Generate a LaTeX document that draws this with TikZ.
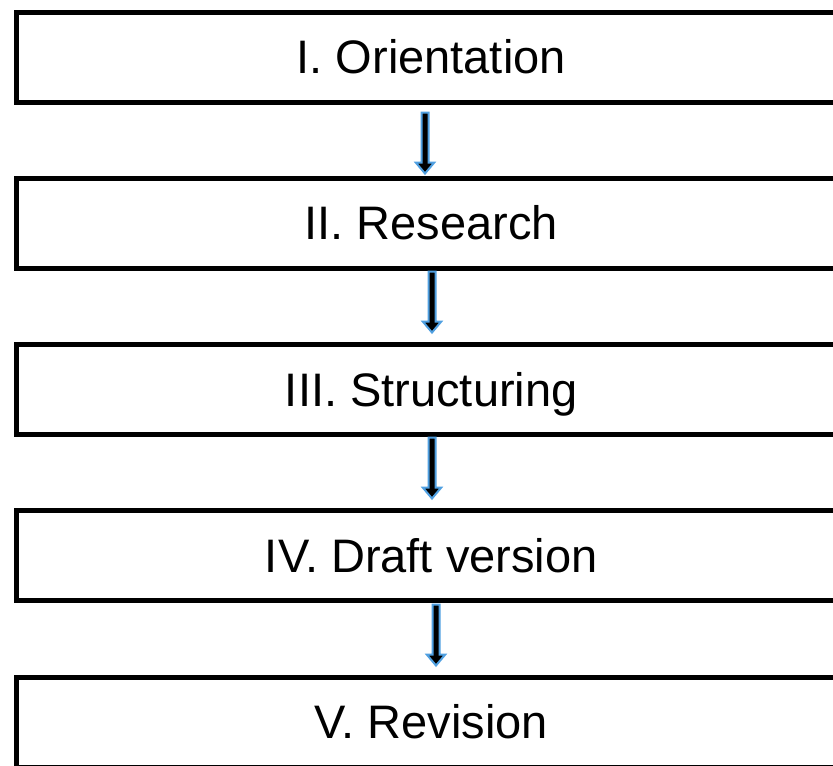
\documentclass[tikz,border=0pt]{standalone}
\usepackage{fontspec}
\setmainfont{Liberation Sans}
\usetikzlibrary{calc}
\definecolor{arrowblue}{RGB}{80,160,225}
\tikzset{
  stage/.style={draw=black, line width=5pt, rectangle, inner sep=0pt,
    minimum width=829.5pt, minimum height=90pt,
    font=\fontsize{47}{56}\selectfont, text height=33.6pt, text depth=0pt},
  blockarrow/.style={fill=black, draw=arrowblue, line width=2pt, line join=miter}
}
% Block arrow hanging below a stage box: #1 source node, #2 x offset, #3 gap
\newcommand\flowarrow[3]{%
  \coordinate (top) at ($(#1.south)+(#2,#3)$);
  \filldraw[blockarrow] ($(top)+(-3.5,0)$) -- ($(top)+(-3.5,50)$)
    -- ($(top)+(-9.25,50)$) -- ($(top)+(0,61)$) -- ($(top)+(9.25,50)$)
    -- ($(top)+(3.5,50)$) -- ($(top)+(3.5,0)$) -- cycle;
}
\begin{document}
\begin{tikzpicture}[x=1pt, y=-1pt]
  \useasboundingbox (0,0) rectangle (833,766);
  \clip (0,0) rectangle (833,766);
  \fill[white] (0,0) rectangle (833,766);

  \node[stage] (b1) at (431.25,57)    {I. Orientation};
  \node[stage] (b2) at (431.25,223)   {II. Research};
  \node[stage] (b3) at (431.25,389.5) {III. Structuring};
  \node[stage] (b4) at (431.25,555.5) {IV. Draft version};
  \node[stage] (b5) at (431.25,722)   {V. Revision};

  \flowarrow{b1}{-6.25}{8}
  \flowarrow{b2}{0.75}{1}
  \flowarrow{b3}{0.75}{0.5}
  \flowarrow{b4}{4.75}{1.5}
\end{tikzpicture}
\end{document}
